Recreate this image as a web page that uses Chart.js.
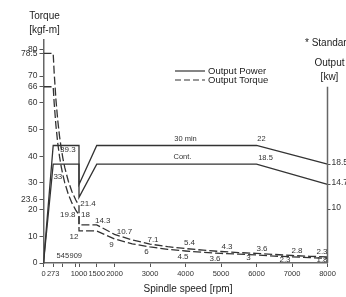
<!DOCTYPE html>
<html>
<head>
<meta charset="utf-8">
<script src="https://cdn.jsdelivr.net/npm/chart.js@4/dist/chart.umd.min.js"></script>
<style>
  html, body { margin: 0; padding: 0; background: #fff; }
</style>
</head>
<body>
<canvas id="myChart" width="346" height="297"></canvas>
<script>
// power curves (kW)
const powerSpeeds = [0, 273, 1000, 1000, 1500, 6000, 8000];
const power30min = [0, 22, 22, 14.7, 22, 22, 18.5];
const powerCont = [0, 18.5, 18.5, 12.3, 18.5, 18.5, 14.7];

// torque curves (kgf-m)
const torqueSpeeds = [0, 273, 300, 350, 400, 450, 500, 545, 600, 700, 800, 909, 1000, 1000, 1500, 2000, 2500, 3000, 3500, 4000, 4500, 5000, 5500, 6000, 6500, 7000, 7500, 8000];
const torque30min = [78.5, 78.5, 71.4, 61.2, 53.6, 47.6, 42.9, 39.3, 35.7, 30.6, 26.8, 23.6, 21.4, 14.3, 14.3, 10.7, 8.6, 7.1, 6.1, 5.4, 4.8, 4.3, 3.9, 3.6, 3.2, 2.8, 2.5, 2.3];
const torqueCont = [66, 66, 60, 51.5, 45, 40, 36, 33, 30, 25.7, 22.5, 19.8, 18, 12, 12, 9, 7.2, 6, 5.1, 4.5, 4, 3.6, 3.3, 3, 2.6, 2.3, 2, 1.8];

// axis ticks
const speedTicks = [0, 273, 545, 909, 1000, 1500, 2000, 3000, 4000, 5000, 6000, 7000, 8000];
const torqueTicks = [0, 10, 20, 23.6, 30, 40, 50, 60, 66, 70, 78.5, 80];
const powerTicks = [10, 14.7, 18.5];

// values written on the curves
const torqueMarks = [[545, 39.3], [545, 33], [1000, 21.4], [909, 19.8], [1000, 18], [1000, 12], [1500, 14.3],
  [2000, 10.7], [2000, 9], [3000, 7.1], [3000, 6], [4000, 5.4], [4000, 4.5], [5000, 4.3], [5000, 3.6],
  [6000, 3.6], [6000, 3], [7000, 2.8], [7000, 2.3], [8000, 2.3], [8000, 1.8]];
const torqueMarkOffsets = [[5, -8], [-5, 2], [9, -2], [-8, 5], [6.5, 0], [-5, 6], [6, -4],
  [10, -3], [-3, 6], [3, -4], [-3.5, 5], [4, -6], [-2.5, 6], [6, -4.5], [-6, 5],
  [5.5, -5], [-8, 3], [5, -4.5], [-7, 3], [-5.5, -5], [-5.5, 2]];
const powerMarks = [['30 min', 4000, 22], ['Cont.', 4000, 18.5], ['22', 6000, 22], ['18.5', 6000, 18.5]];
const powerMarkOffsets = [[0, -6.5], [-3, -7], [5, -6.5], [9, -6]];
const speedMarks = [545, 909];

const FONT = "'Liberation Sans', Arial, sans-serif";
Chart.defaults.font.family = FONT;
Chart.defaults.color = '#333';

function pts(xs, ys) {
  return xs.map((x, i) => ({ x: x, y: ys[i] }));
}

const textPlugin = {
  id: 'texts',
  afterDraw(chart) {
    const c = chart.ctx;
    const x = chart.scales.x;
    const yt = chart.scales.yTorque;
    const yp = chart.scales.yPower;
    c.save();

    // right axis line (shorter than left one)
    c.strokeStyle = '#666';
    c.lineWidth = 1.5;
    c.beginPath();
    c.moveTo(yp.left, yp.getPixelForValue(33));
    c.lineTo(yp.left, yp.bottom);
    c.stroke();

    c.fillStyle = '#333';
    c.textAlign = 'center';
    c.textBaseline = 'middle';
    c.font = '8px ' + FONT;
    torqueMarks.forEach((m, i) => {
      const o = torqueMarkOffsets[i];
      c.fillText(String(m[1]), x.getPixelForValue(m[0]) + o[0], yt.getPixelForValue(m[1]) + o[1]);
    });
    c.font = '7.5px ' + FONT;
    powerMarks.forEach((m, i) => {
      const o = powerMarkOffsets[i];
      c.fillText(m[0], x.getPixelForValue(m[1]) + o[0], yp.getPixelForValue(m[2]) + o[1]);
    });
    speedMarks.forEach((s) => {
      c.fillText(String(s), x.getPixelForValue(s), x.top - 7);
    });

    // axis titles
    c.fillStyle = '#222';
    c.font = '10px ' + FONT;
    c.fillText('Torque', yt.right + 1, 16);
    c.fillText('[kgf-m]', yt.right + 1, 30);
    c.fillText('Output', yp.left + 2, 63);
    c.fillText('[kw]', yp.left + 2, 77);
    c.fillText('Spindle speed [rpm]', 188, 289);
    c.textAlign = 'left';
    c.fillText('* Standard', 305, 43);

    // legend
    c.font = '9.5px ' + FONT;
    c.fillText('Output Power', 208, 71);
    c.fillText('Output Torque', 208, 80);
    c.strokeStyle = '#333';
    c.lineWidth = 1.2;
    c.beginPath();
    c.moveTo(175, 71);
    c.lineTo(205, 71);
    c.stroke();
    c.setLineDash([6, 3]);
    c.beginPath();
    c.moveTo(175, 80);
    c.lineTo(205, 80);
    c.stroke();
    c.restore();
  }
};

const solid = { borderColor: '#333', borderWidth: 1.3, pointRadius: 0, tension: 0, fill: false };
const dashed = { borderColor: '#333', borderWidth: 1.3, pointRadius: 0, tension: 0, fill: false, borderDash: [8, 3] };

new Chart(document.getElementById('myChart'), {
  type: 'line',
  data: {
    datasets: [
      Object.assign({ label: 'Output Power 30 min', data: pts(powerSpeeds, power30min), yAxisID: 'yPower' }, solid),
      Object.assign({ label: 'Output Power Cont.', data: pts(powerSpeeds, powerCont), yAxisID: 'yPower' }, solid),
      Object.assign({ label: 'Output Torque 30 min', data: pts(torqueSpeeds, torque30min), yAxisID: 'yTorque' }, dashed),
      Object.assign({ label: 'Output Torque Cont.', data: pts(torqueSpeeds, torqueCont), yAxisID: 'yTorque' }, dashed)
    ]
  },
  options: {
    responsive: false,
    animation: false,
    layout: { padding: { top: 40, left: 0, right: 0, bottom: 0 } },
    plugins: { legend: { display: false }, tooltip: { enabled: false } },
    scales: {
      x: {
        type: 'linear', min: 0, max: 8000,
        afterBuildTicks: (s) => { s.ticks = speedTicks.map((v) => ({ value: v })); },
        afterFit: (s) => { s.height = 34; },
        ticks: {
          autoSkip: false, maxRotation: 0, padding: 2,
          font: { size: 7.5 },
          callback: (v) => (speedMarks.includes(v) ? '' : String(v))
        },
        grid: { display: true, drawOnChartArea: false, tickLength: 4, color: '#555' },
        border: { color: '#666', width: 1.5 }
      },
      yTorque: {
        type: 'linear', position: 'left', min: 0, max: 83.5,
        afterBuildTicks: (s) => { s.ticks = torqueTicks.map((v) => ({ value: v })); },
        afterFit: (s) => { s.width = 43.5; },
        ticks: { autoSkip: false, padding: 2, font: { size: 8.5 }, callback: (v) => String(v) },
        grid: { display: true, drawOnChartArea: false, tickLength: 4, color: '#555' },
        border: { color: '#666', width: 1.5 }
      },
      yPower: {
        type: 'linear', position: 'right', min: 0, max: 41.75,
        afterBuildTicks: (s) => { s.ticks = powerTicks.map((v) => ({ value: v })); },
        afterFit: (s) => { s.width = 18.5; },
        ticks: { autoSkip: false, padding: 1, labelOffset: -2, font: { size: 8.5 }, callback: (v) => String(v) },
        grid: { display: true, drawOnChartArea: false, tickLength: 3, color: '#555' },
        border: { display: false }
      }
    }
  },
  plugins: [textPlugin]
});
</script>
</body>
</html>
